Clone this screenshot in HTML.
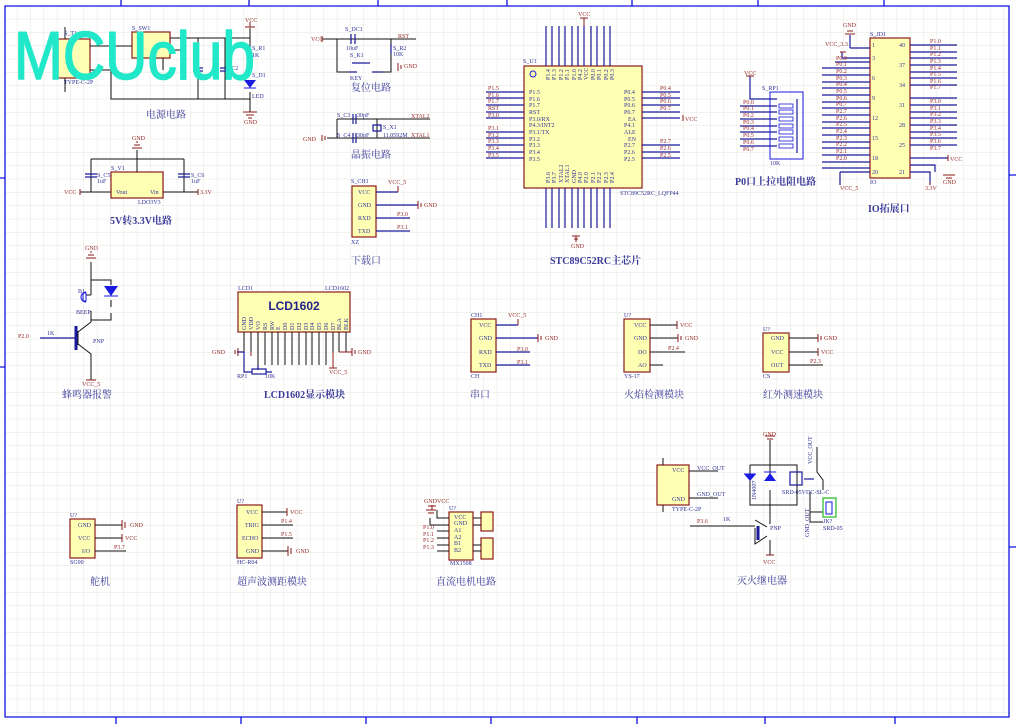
<!DOCTYPE html>
<html><head><meta charset="utf-8"><style>
html,body{margin:0;padding:0;background:#fff}
svg{display:block}
text{font-family:"Liberation Serif","Noto Serif CJK SC",serif}
.t{font-size:6px;fill:#33339a}
.r{font-size:6px;fill:#9a2a2a}
.cn{font-size:10px;fill:#3a3a9a}
.w{stroke:#1a1a9a;stroke-width:1.2;fill:none}
.k{stroke:#111;stroke-width:1;fill:none}
.p{stroke:#8b1a1a;stroke-width:1;fill:none}
.b{fill:#ffffb4;stroke:#8b1a1a;stroke-width:1.2}
</style></head><body>
<svg width="1016" height="724" viewBox="0 0 1016 724" xmlns="http://www.w3.org/2000/svg">
<defs>
<pattern id="g" x="4" y="6" width="13.33" height="13.33" patternUnits="userSpaceOnUse">
<path d="M13.33 0V13.33M0 13.33H13.33" stroke="#e6e6dc" stroke-width="1" fill="none"/>
</pattern>
</defs>
<rect x="0" y="0" width="1016" height="724" fill="#fff"/>
<rect x="5" y="6" width="1004" height="711" fill="url(#g)"/>
<g stroke="#1010e0" stroke-width="1.3" fill="none">
<path d="M5 6H1009V717H5Z"/>
<path d="M121 0V6M249 0V6M378 0V6M507 0V6M632 0V6M758 0V6M884 0V6"/>
<path d="M116 717V724M241 717V724M366 717V724M491 717V724M637 717V724M765 717V724M895 717V724"/>
<path d="M0 178H5M0 367H5M1009 175H1016M1009 547H1016"/>
</g>

<!-- power -->
<rect class="b" x="58" y="39" width="32" height="39"/>
<rect class="b" x="132" y="32" width="38" height="26"/>
<g class="k">
<path d="M90 46H132M90 70H111V99H250M170 38H250M170 50H186M163 58V70M198 38V99M225 38V99M250 28V38M250 38V60M250 92V112M65 27V39M65 78V92"/>
</g>
<g class="w"><path d="M193 68h10M193 71h10M220 68h10M220 71h10M250 46v12"/></g>
<path d="M244 80h12l-6 8z" fill="#1a1ae0"/>
<path d="M244 88h12" stroke="#1a1ae0"/>
<g class="p"><path d="M245 27h10M250 22v5M243 112h14M246 115h8M248 118h4"/></g>
<text class="r" x="245" y="22">VCC</text><text class="r" x="244" y="124">GND</text>
<text class="t" x="64" y="35">S_T1</text><text class="t" x="132" y="30">S_SW1</text>
<text class="t" x="252" y="50">S_R1</text><text class="t" x="252" y="57">1K</text>
<text class="t" x="252" y="77">S_D1</text><text class="t" x="252" y="98">LED</text>
<text class="t" x="225" y="70">S_C2</text><text class="t" x="64" y="84">TYPE-C-2P</text>
<text class="cn" x="146" y="118">电源电路</text>
<text x="14" y="79" style="font-family:'Liberation Sans',sans-serif;font-size:68px" fill="#20e8c8" stroke="#20e8c8" stroke-width="1.5" stroke-linejoin="round" textLength="241" lengthAdjust="spacingAndGlyphs">MCUclub</text>

<!-- reset -->
<g class="k"><path d="M322 39H416M337 39V72H349M383 72H391V39M391 56V67"/></g>
<g class="w"><path d="M351 34v10M355 34v10M391 44v10M352 63h18M349 72h8M372 72h11"/></g>
<g class="p"><path d="M322 36v6M398 63v8M401 65v4"/></g>
<text class="r" x="311" y="41">VCC</text><text class="r" x="398" y="38">RST</text><text class="r" x="404" y="68">GND</text>
<text class="t" x="345" y="31">S_DC1</text><text class="t" x="346" y="50">10uF</text><text class="t" x="350" y="57">S_K1</text>
<text class="t" x="393" y="50">S_R2</text><text class="t" x="393" y="56">10K</text><text class="t" x="350" y="80">KEY</text>
<text class="cn" x="351" y="91">复位电路</text>

<!-- crystal -->
<g class="k"><path d="M327 138H430M337 119H430M337 119V138M377 119V138"/></g>
<g class="w"><path d="M353 114v10M356 114v10M353 133v10M356 133v10M373 125h8v6h-8z"/></g>
<g class="p"><path d="M322 135v6M325 136v4"/></g>
<text class="r" x="303" y="141">GND</text><text class="t" x="337" y="117">S_C3</text><text class="t" x="357" y="117">30pF</text>
<text class="t" x="337" y="137">S_C4</text><text class="t" x="357" y="137">30pF</text>
<text class="t" x="383" y="129">S_X1</text><text class="t" x="383" y="137">11.0592M</text>
<text class="r" x="411" y="118">XTAL2</text><text class="r" x="411" y="137">XTAL1</text>
<text class="cn" x="351" y="158">晶振电路</text>

<!-- LDO -->
<rect class="b" x="111" y="172" width="52" height="26"/>
<g class="k"><path d="M91 159H184M137 150V172M91 159V192H111M184 159V192H163M80 192H91M184 192H198"/></g>
<g class="w"><path d="M85 174h12M85 177h12M178 174h12M178 177h12"/></g>
<g class="p"><path d="M132 148h10M134 145h6M136 142h2M80 189v6M198 189v6"/></g>
<text class="r" x="132" y="140">GND</text><text class="r" x="64" y="194">VCC</text><text class="r" x="200" y="194">3.3V</text>
<text class="t" x="111" y="170">S_V1</text><text class="t" x="97" y="177">S_C5</text><text class="t" x="97" y="183">1uF</text>
<text class="t" x="191" y="177">S_C6</text><text class="t" x="191" y="183">1uF</text>
<text class="t" x="116" y="194">Vout</text><text class="t" x="150" y="194">Vin</text><text class="t" x="138" y="204">LDO3V3</text>
<text class="cn" x="110" y="224" font-weight="bold">5V转3.3V电路</text>

<!-- download -->
<rect class="b" x="352" y="186" width="24" height="51"/>
<g class="w"><path d="M376 192H398M376 205H418M376 218H410M376 231H410"/></g>
<g class="p"><path d="M398 186v6M418 201v8M421 203v4"/></g>
<text class="t" x="358" y="194">VCC</text><text class="t" x="358" y="207">GND</text><text class="t" x="358" y="220">RXD</text><text class="t" x="358" y="233">TXD</text>
<text class="t" x="351" y="183">S_CH1</text><text class="r" x="388" y="184">VCC_5</text><text class="r" x="424" y="207">GND</text>
<text class="r" x="397" y="216">P3.0</text><text class="r" x="397" y="229">P3.1</text><text class="t" x="351" y="244">XZ</text>
<text class="cn" x="351" y="264">下载口</text>

<!-- MCU -->
<rect class="b" x="524" y="66" width="118" height="122"/>
<circle cx="533" cy="74" r="3" fill="none" stroke="#1a1ae0"/>
<g class="w">
<path d="M546 26V66M552 26V66M559 26V66M565 26V66M572 26V66M578 26V66M584 26V66M591 26V66M597 26V66M604 26V66M610 26V66"/>
<path d="M546 188V228M552 188V228M559 188V228M565 188V228M572 188V228M578 188V228M584 188V228M591 188V228M597 188V228M604 188V228M610 188V228"/>
<path d="M486 92H524M486 98H524M486 105H524M486 112H524M486 118H524M486 132H524M486 138H524M486 145H524M486 152H524M486 158H524"/>
<path d="M642 92H680M642 98H680M642 105H680M642 112H680M642 118H680M642 145H680M642 152H680M642 158H680"/>
</g>
<g class="p"><path d="M584 18v8M580 18h8M576 236v6M572 236h8M574 239h4M683 115v6"/></g>
<text class="r" x="578" y="16">VCC</text><text class="r" x="571" y="248">GND</text><text class="r" x="685" y="121">VCC</text>
<text class="t" x="523" y="63">S_U1</text>
<g class="t"><text x="529" y="94">P1.5</text><text x="529" y="101">P1.6</text><text x="529" y="107">P1.7</text><text x="529" y="114">RST</text><text x="529" y="121">P3.0/RX</text><text x="529" y="127">P4.3/INT2</text><text x="529" y="134">P3.1/TX</text><text x="529" y="141">P3.2</text><text x="529" y="147">P3.3</text><text x="529" y="154">P3.4</text><text x="529" y="161">P3.5</text>
<text x="624" y="94">P0.4</text><text x="624" y="101">P0.5</text><text x="624" y="107">P0.6</text><text x="624" y="114">P0.7</text><text x="628" y="121">EA</text><text x="624" y="127">P4.1</text><text x="624" y="134">ALE</text><text x="628" y="141">EN</text><text x="624" y="147">P2.7</text><text x="624" y="154">P2.6</text><text x="624" y="161">P2.5</text>
<text x="620" y="195">STC89C52RC_LQFP44</text></g>
<g class="r"><text x="488" y="90">P1.5</text><text x="488" y="97">P1.6</text><text x="488" y="103">P1.7</text><text x="488" y="110">RST</text><text x="488" y="117">P3.0</text><text x="488" y="130">P3.1</text><text x="488" y="137">P3.2</text><text x="488" y="143">P3.3</text><text x="488" y="150">P3.4</text><text x="488" y="157">P3.5</text>
<text x="660" y="90">P0.4</text><text x="660" y="97">P0.5</text><text x="660" y="103">P0.6</text><text x="660" y="110">P0.7</text><text x="660" y="143">P2.7</text><text x="660" y="150">P2.6</text><text x="660" y="157">P2.5</text></g>
<g class="t" font-size="5"><text transform="translate(550,80) rotate(-90)">P1.4</text><text transform="translate(556,80) rotate(-90)">P1.3</text><text transform="translate(563,80) rotate(-90)">P1.2</text><text transform="translate(569,80) rotate(-90)">P1.1</text><text transform="translate(576,80) rotate(-90)">P1.0</text><text transform="translate(582,80) rotate(-90)">P4.2</text><text transform="translate(588,80) rotate(-90)">VCC</text><text transform="translate(595,80) rotate(-90)">P0.0</text><text transform="translate(601,80) rotate(-90)">P0.1</text><text transform="translate(608,80) rotate(-90)">P0.2</text><text transform="translate(614,80) rotate(-90)">P0.3</text>
<text transform="translate(550,183) rotate(-90)">P3.6</text><text transform="translate(556,183) rotate(-90)">P3.7</text><text transform="translate(563,183) rotate(-90)">XTAL2</text><text transform="translate(569,183) rotate(-90)">XTAL1</text><text transform="translate(576,183) rotate(-90)">GND</text><text transform="translate(582,183) rotate(-90)">P4.0</text><text transform="translate(588,183) rotate(-90)">P2.0</text><text transform="translate(595,183) rotate(-90)">P2.1</text><text transform="translate(601,183) rotate(-90)">P2.2</text><text transform="translate(608,183) rotate(-90)">P2.3</text><text transform="translate(614,183) rotate(-90)">P2.4</text></g>
<text class="cn" x="550" y="264" font-weight="bold">STC89C52RC主芯片</text>

<!-- RP1 -->
<rect x="770" y="92" width="33" height="67" fill="none" stroke="#1a1ae0" stroke-width="1"/>
<g class="w"><path d="M750 76V99H777M740 106H777M740 112H777M740 119H777M740 126H777M740 132H777M740 139H777M740 146H777M797 99V153"/></g>
<g stroke="#1a1ae0" fill="none" stroke-width="0.8"><rect x="779" y="104" width="14" height="4"/><rect x="779" y="110" width="14" height="4"/><rect x="779" y="117" width="14" height="4"/><rect x="779" y="124" width="14" height="4"/><rect x="779" y="130" width="14" height="4"/><rect x="779" y="137" width="14" height="4"/><rect x="779" y="144" width="14" height="4"/></g>
<g class="p"><path d="M746 76h8"/></g>
<text class="r" x="744" y="75">VCC</text><text class="t" x="762" y="90">S_RP1</text><text class="t" x="770" y="165">10K</text>
<g class="r"><text x="743" y="104">P0.0</text><text x="743" y="110">P0.1</text><text x="743" y="117">P0.2</text><text x="743" y="124">P0.3</text><text x="743" y="130">P0.4</text><text x="743" y="137">P0.5</text><text x="743" y="144">P0.6</text><text x="743" y="151">P0.7</text></g>
<text class="cn" x="735" y="185" font-weight="bold">P0口上拉电阻电路</text>

<!-- JD1 -->
<rect class="b" x="870" y="38" width="40" height="140"/>
<g class="w"><path d="M835 62H870M822 68H870M822 75H870M822 82H870M822 88H870M822 95H870M822 102H870M822 108H870M822 115H870M822 122H870M822 128H870M822 135H870M822 142H870M822 148H870M822 155H870M822 162H870M822 168H870M840 172H870M840 172V185M850 48V35M850 48H870M842 52V58H870"/>
<path d="M910 45H957M910 52H957M910 58H957M910 65H957M910 72H957M910 78H957M910 85H957M910 98H957M910 105H957M910 112H957M910 118H957M910 125H957M910 132H957M910 138H957M910 145H957M910 165H935V172M910 172H930V185M910 158H948"/></g>
<g class="p"><path d="M845 34h10M847 31h6M840 52h6M948 155v6M943 175h12M946 178h6M930 185v-3"/></g>
<text class="r" x="843" y="27">GND</text><text class="r" x="825" y="46">VCC_3.3</text><text class="r" x="950" y="161">VCC</text><text class="r" x="943" y="184">GND</text>
<text class="r" x="840" y="190">VCC_5</text><text class="r" x="925" y="190">3.3V</text>
<text class="t" x="870" y="36">S_JD1</text><text class="t" x="870" y="184">IO</text>
<g class="r" font-size="5.5"><text x="836" y="60">P0.0</text><text x="836" y="66">P0.1</text><text x="836" y="73">P0.2</text><text x="836" y="80">P0.3</text><text x="836" y="86">P0.4</text><text x="836" y="93">P0.5</text><text x="836" y="100">P0.6</text><text x="836" y="106">P0.7</text><text x="836" y="113">P2.7</text><text x="836" y="120">P2.6</text><text x="836" y="126">P2.5</text><text x="836" y="133">P2.4</text><text x="836" y="140">P2.3</text><text x="836" y="146">P2.2</text><text x="836" y="153">P2.1</text><text x="836" y="160">P2.0</text>
<text x="930" y="43">P1.0</text><text x="930" y="50">P1.1</text><text x="930" y="56">P1.2</text><text x="930" y="63">P1.3</text><text x="930" y="70">P1.4</text><text x="930" y="76">P1.5</text><text x="930" y="83">P1.6</text><text x="930" y="89">P1.7</text><text x="930" y="103">P3.0</text><text x="930" y="110">P3.1</text><text x="930" y="116">P3.2</text><text x="930" y="123">P3.3</text><text x="930" y="130">P3.4</text><text x="930" y="136">P3.5</text><text x="930" y="143">P3.6</text><text x="930" y="150">P3.7</text></g>
<g class="t" font-size="5"><text x="872" y="47">1</text><text x="872" y="60">3</text><text x="872" y="80">6</text><text x="872" y="100">9</text><text x="872" y="120">12</text><text x="872" y="140">15</text><text x="872" y="160">18</text><text x="872" y="174">20</text><text x="899" y="47">40</text><text x="899" y="67">37</text><text x="899" y="87">34</text><text x="899" y="107">31</text><text x="899" y="127">28</text><text x="899" y="147">25</text><text x="899" y="174">21</text></g>
<text class="cn" x="868" y="212" font-weight="bold">IO拓展口</text>

<!-- buzzer -->
<g class="k"><path d="M91 262V280M91 280H111V285M91 280V295M91 295H86M91 311V320H111V313M111 300V307M78 331V345M78 338H40M78 332L91 322M91 320V322M78 344L91 354V380"/></g>
<g class="w"><path d="M40 338H78"/><path d="M76 326V350" stroke-width="3"/></g>
<path d="M104 286h14l-7 10z" fill="#1a1ae0"/><path d="M104 296h14" stroke="#1a1ae0"/>
<path d="M86 292a5 5 0 0 0 0 10" fill="none" stroke="#1a1ae0"/><rect x="83" y="293" width="3" height="8" fill="none" stroke="#1a1ae0"/>
<g class="p"><path d="M86 258h10M88 255h6M90 252h2M86 380h10"/></g>
<text class="r" x="85" y="250">GND</text><text class="r" x="82" y="386">VCC_5</text><text class="r" x="18" y="338">P2.0</text>
<text class="t" x="78" y="293">B1</text><text class="t" x="76" y="314">BEEP</text><text class="t" x="47" y="335">1K</text><text class="t" x="93" y="343">PNP</text>
<text class="cn" x="62" y="398">蜂鸣器报警</text>

<!-- LCD1602 -->
<rect class="b" x="238" y="292" width="112" height="40"/>
<text x="294" y="310" text-anchor="middle" style="font-family:'Liberation Sans',sans-serif;font-weight:bold;font-size:12px" fill="#222288">LCD1602</text>
<g class="k"><path d="M244 332V352M251 332V352M258 332V365M265 332V365M272 332V365M278 332V365M285 332V365M292 332V365M299 332V365M306 332V365M312 332V365M319 332V365M326 332V365M333 332V352M339 332V352M346 332V352"/></g>
<g class="w"><path d="M237 352H244M244 352V372H252M266 372H272M258 365V370"/><rect x="252" y="369" width="14" height="5" fill="none"/></g>
<g class="p"><path d="M238 348v8M235 350v4M339 352H352M352 348v8M355 350v4M333 352V368M329 368h8M251 352v4"/></g>
<text class="r" x="212" y="354">GND</text><text class="r" x="358" y="354">GND</text><text class="r" x="329" y="374">VCC_5</text>
<text class="t" x="238" y="290">LCD1</text><text class="t" x="325" y="290">LCD1602</text><text class="t" x="237" y="378">RP1</text><text class="t" x="265" y="378">10K</text>
<g class="t" font-size="5"><text transform="translate(246,330) rotate(-90)">GND</text><text transform="translate(253,330) rotate(-90)">VDD</text><text transform="translate(260,330) rotate(-90)">VO</text><text transform="translate(267,330) rotate(-90)">RS</text><text transform="translate(274,330) rotate(-90)">RW</text><text transform="translate(280,330) rotate(-90)">E</text><text transform="translate(287,330) rotate(-90)">D0</text><text transform="translate(294,330) rotate(-90)">D1</text><text transform="translate(301,330) rotate(-90)">D2</text><text transform="translate(308,330) rotate(-90)">D3</text><text transform="translate(314,330) rotate(-90)">D4</text><text transform="translate(321,330) rotate(-90)">D5</text><text transform="translate(328,330) rotate(-90)">D6</text><text transform="translate(335,330) rotate(-90)">D7</text><text transform="translate(341,330) rotate(-90)">BLA</text><text transform="translate(348,330) rotate(-90)">BLK</text></g>
<text class="cn" x="264" y="398" font-weight="bold">LCD1602显示模块</text>

<!-- UART -->
<rect class="b" x="471" y="319" width="25" height="53"/>
<g class="w"><path d="M496 325H518M496 338H538M496 352H530M496 365H530"/></g>
<g class="p"><path d="M518 319v6M538 334v8M541 336v4"/></g>
<g class="t"><text x="479" y="327">VCC</text><text x="479" y="340">GND</text><text x="479" y="354">RXD</text><text x="479" y="367">TXD</text><text x="471" y="317">CH1</text><text x="471" y="378">CH</text></g>
<text class="r" x="508" y="317">VCC_5</text><text class="r" x="545" y="340">GND</text><text class="r" x="517" y="351">P3.0</text><text class="r" x="517" y="364">P3.1</text>
<text class="cn" x="470" y="398">串口</text>

<!-- flame -->
<rect class="b" x="624" y="319" width="26" height="53"/>
<g class="k"><path d="M650 325H677M650 338H678M650 352H685M650 365H663"/></g>
<g class="p"><path d="M677 321v8M678 334v8M681 336v4"/></g>
<g class="t"><text x="634" y="327">VCC</text><text x="634" y="340">GND</text><text x="638" y="354">DO</text><text x="638" y="367">AO</text><text x="624" y="317">U?</text><text x="624" y="378">YS-17</text></g>
<text class="r" x="680" y="327">VCC</text><text class="r" x="685" y="340">GND</text><text class="r" x="668" y="350">P2.4</text>
<text class="cn" x="624" y="398">火焰检测模块</text>

<!-- IR -->
<rect class="b" x="763" y="333" width="26" height="39"/>
<g class="k"><path d="M789 338H818M789 352H818M789 365H823"/></g>
<g class="p"><path d="M818 334v8M821 336v4M818 348v8"/></g>
<g class="t"><text x="771" y="340">GND</text><text x="771" y="354">VCC</text><text x="771" y="367">OUT</text><text x="763" y="331">U?</text><text x="763" y="378">CS</text></g>
<text class="r" x="824" y="340">GND</text><text class="r" x="821" y="354">VCC</text><text class="r" x="810" y="363">P2.3</text>
<text class="cn" x="763" y="398">红外测速模块</text>

<!-- servo -->
<rect class="b" x="70" y="519" width="25" height="39"/>
<g class="k"><path d="M95 525H122M95 538H122M95 551H126"/></g>
<g class="p"><path d="M122 520v10M125 522v6M122 534v8"/></g>
<g class="t"><text x="78" y="527">GND</text><text x="78" y="540">VCC</text><text x="82" y="553">I/O</text><text x="70" y="517">U?</text><text x="70" y="564">SG90</text></g>
<text class="r" x="130" y="527">GND</text><text class="r" x="125" y="540">VCC</text><text class="r" x="114" y="549">P3.7</text>
<text class="cn" x="90" y="585">舵机</text>

<!-- HC-SR04 -->
<rect class="b" x="237" y="505" width="25" height="53"/>
<g class="k"><path d="M262 512H287M262 525H293M262 538H293M262 551H288"/></g>
<g class="p"><path d="M287 508v8M288 546v10M291 548v6"/></g>
<g class="t"><text x="246" y="514">VCC</text><text x="245" y="527">TRIG</text><text x="242" y="540">ECHO</text><text x="246" y="553">GND</text><text x="237" y="503">U?</text><text x="237" y="564">HC-R04</text></g>
<text class="r" x="290" y="514">VCC</text><text class="r" x="281" y="523">P1.4</text><text class="r" x="281" y="536">P1.5</text><text class="r" x="296" y="553">GND</text>
<text class="cn" x="237" y="585">超声波测距模块</text>

<!-- DC motor -->
<rect class="b" x="449" y="512" width="24" height="48"/>
<rect class="b" x="481" y="512" width="12" height="19"/><rect class="b" x="481" y="538" width="12" height="21"/>
<g class="k"><path d="M430 518V525H449M437 510V518H449M473 518H481M473 525H481M473 545H481M473 551H481M437 531H449M437 538H449M437 545H449M437 551H449"/></g>
<g class="p"><path d="M426 510h10M428 513h6M432 505v5M428 506h8"/></g>
<text class="r" x="424" y="503">GND</text><text class="r" x="437" y="503">VCC</text>
<g class="t" font-size="5.5"><text x="454" y="519">VCC</text><text x="454" y="525">GND</text><text x="454" y="532">A1</text><text x="454" y="539">A2</text><text x="454" y="545">B1</text><text x="454" y="552">B2</text><text x="449" y="510">U?</text><text x="450" y="565">MX1508</text></g>
<g class="r" font-size="5"><text x="423" y="529">P1.0</text><text x="423" y="536">P1.1</text><text x="423" y="542">P1.2</text><text x="423" y="549">P1.3</text></g>
<text class="cn" x="436" y="585">直流电机电路</text>

<!-- relay -->
<rect class="b" x="657" y="465" width="32" height="40"/>
<g class="k"><path d="M689 471H718M689 498H718M663 458V465M663 505V512M770 440V465M750 465H797V505H750V465M770 465V478M770 490V505M770 505V524M770 540V555M690 526H755M767 527L755 520M767 536L755 544V528M817 447V472L823 480V490M810 492V522H823M810 512H823"/></g>
<g class="w"><path d="M758 526V540" stroke-width="3"/><rect x="790" y="472" width="12" height="13" fill="none"/><path d="M804 479H814"/></g>
<path d="M744 474h12l-6 7z" fill="#1a1ae0"/><path d="M744 474h12" stroke="#1a1ae0"/>
<path d="M764 481h12l-6-8z" fill="#1a1ae0"/><path d="M764 472h12" stroke="#1a1ae0"/>
<rect x="823" y="498" width="13" height="19" fill="none" stroke="#22bb22" stroke-width="1.2"/>
<rect x="826" y="502" width="6" height="12" fill="none" stroke="#1a1ae0"/>
<g class="p"><path d="M765 436h10M767 439h6M766 555h8"/></g>
<text class="r" x="763" y="436">GND</text><text class="r" x="763" y="564">VCC</text><text class="r" x="697" y="523">P3.6</text>
<g class="t"><text x="697" y="470">VCC_OUT</text><text x="697" y="496">GND_OUT</text><text x="672" y="472">VCC</text><text x="672" y="501">GND</text><text x="672" y="511">TYPE-C-2P</text>
<text x="723" y="521">1K</text><text x="770" y="530">PNP</text><text x="782" y="494">SRD-05VDC-SL-C</text><text x="823" y="523">JK?</text><text x="823" y="530">SRD-05</text>
<text transform="translate(812,464) rotate(-90)">VCC_OUT</text><text transform="translate(809,537) rotate(-90)">GND_OUT</text><text transform="translate(756,500) rotate(-90)">1N4007</text></g>
<text class="cn" x="737" y="584">灭火继电器</text>
</svg>
</body></html>
